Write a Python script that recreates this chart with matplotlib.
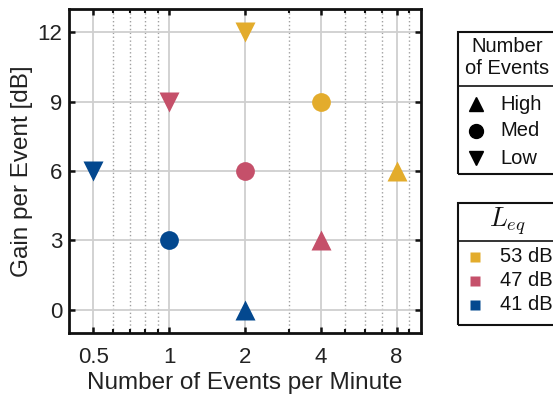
import matplotlib
matplotlib.use("Agg")
import matplotlib.pyplot as plt
from matplotlib.lines import Line2D
from matplotlib.patches import Rectangle
from matplotlib.ticker import FixedLocator, NullFormatter

plt.rcParams['font.family'] = ['Liberation Sans', 'DejaVu Sans']
plt.rcParams['mathtext.fontset'] = 'cm'

# ---- data ----
levels = ['53 dB', '47 dB', '41 dB']
level_colors = ['#E3AC2C', '#C5506A', '#03488F']
densities = ['High', 'Med', 'Low']
density_markers = ['^', 'o', 'v']

# rate (events/min) per (level, density)
rates = {
    ('53 dB', 'High'): 8, ('53 dB', 'Med'): 4, ('53 dB', 'Low'): 2,
    ('47 dB', 'High'): 4, ('47 dB', 'Med'): 2, ('47 dB', 'Low'): 1,
    ('41 dB', 'High'): 2, ('41 dB', 'Med'): 1, ('41 dB', 'Low'): 0.5,
}
gains = {
    ('53 dB', 'High'): 6, ('53 dB', 'Med'): 9, ('53 dB', 'Low'): 12,
    ('47 dB', 'High'): 3, ('47 dB', 'Med'): 6, ('47 dB', 'Low'): 9,
    ('41 dB', 'High'): 0, ('41 dB', 'Med'): 3, ('41 dB', 'Low'): 6,
}
x_ticks = [0.5, 1, 2, 4, 8]
x_ticklabels = ['0.5', '1', '2', '4', '8']
x_minor = [0.6, 0.7, 0.8, 0.9, 3, 5, 6, 7, 9]
y_ticks = [0, 3, 6, 9, 12]

W, H = 553, 400
fig = plt.figure(figsize=(W / 100, H / 100), dpi=100)
ax = fig.add_axes([69 / W, 1 - 333 / H, (421 - 69) / W, (333 - 9) / H])

ax.set_xscale('log')
ax.set_xlim(0.4, 10)
ax.set_ylim(-1, 13)
ax.xaxis.set_major_locator(FixedLocator(x_ticks))
ax.set_xticklabels(x_ticklabels)
ax.xaxis.set_minor_locator(FixedLocator(x_minor))
ax.xaxis.set_minor_formatter(NullFormatter())
ax.set_yticks(y_ticks)

ax.grid(True, which='major', color='#cfcfcf', lw=1.3, ls='-')
ax.grid(True, which='minor', axis='x', color='#a0a0a0', lw=1.0, ls=(0, (1, 1.8)))
ax.set_axisbelow(True)

for lev, col in zip(levels, level_colors):
    for den, mk in zip(densities, density_markers):
        ms = 13.5 if mk == 'o' else 14.5
        ax.plot(rates[(lev, den)], gains[(lev, den)], marker=mk, ls='none',
                color=col, ms=ms, mec='none', zorder=3, clip_on=False)

ax.tick_params(which='major', direction='in', length=4, width=1.8,
               top=True, right=True, labelsize=16, color='#111111')
ax.tick_params(axis='x', which='major', pad=10)
ax.tick_params(axis='y', which='major', pad=5)
ax.tick_params(which='minor', direction='in', length=3, width=1.5,
               top=True, color='#111111')
for s in ax.spines.values():
    s.set_linewidth(2)
    s.set_color('#111111')

ax.set_xlabel('Number of Events per Minute', fontsize=17.5, labelpad=3, color='#222222')
ax.set_ylabel('Gain per Event [dB]', fontsize=17.5, labelpad=3, color='#222222')
for lbl in ax.get_xticklabels() + ax.get_yticklabels():
    lbl.set_color('#222222')

# ---- custom legends (figure pixel coords) ----
def fx(px):
    return px / W

def fy(py):
    return 1 - py / H

box_l, box_r = 458, 557
cx = (box_l + box_r) / 2

# Legend 1: density markers
fig.patches.append(Rectangle((fx(box_l), fy(174)), fx(box_r - box_l), (174 - 32) / H,
                             transform=fig.transFigure, fill=False, ec='#111111', lw=1.5))
fig.lines.append(Line2D([fx(box_l), fx(box_r)], [fy(86), fy(86)],
                        transform=fig.transFigure, color='#111111', lw=1.2))
fig.text(fx(cx), fy(46), 'Number', ha='center', va='center', fontsize=14.5, color='#111111')
fig.text(fx(cx), fy(68), 'of Events', ha='center', va='center', fontsize=14.5, color='#111111')
for i, (den, mk) in enumerate(zip(densities, density_markers)):
    yy = 104 + i * 27
    fig.lines.append(Line2D([fx(476)], [fy(yy)], transform=fig.transFigure,
                            marker=mk, ls='none', color='black', ms=10))
    fig.text(fx(500), fy(yy), den, ha='left', va='center', fontsize=14.5, color='#111111')

# Legend 2: levels
fig.patches.append(Rectangle((fx(box_l), fy(325)), fx(box_r - box_l), (325 - 203) / H,
                             transform=fig.transFigure, fill=False, ec='#111111', lw=1.5))
fig.lines.append(Line2D([fx(box_l), fx(box_r)], [fy(241), fy(241)],
                        transform=fig.transFigure, color='#111111', lw=1.2))
fig.text(fx(cx), fy(221), r'$L_{eq}$', ha='center', va='center', fontsize=19, color='#111111')
for i, (lev, col) in enumerate(zip(levels, level_colors)):
    yy = 257 + i * 24
    fig.lines.append(Line2D([fx(475)], [fy(yy)], transform=fig.transFigure,
                            marker='s', ls='none', color=col, ms=7.5, mec='none'))
    fig.text(fx(500), fy(yy), lev, ha='left', va='center', fontsize=14.5, color='#111111')

fig.savefig('out.png', dpi=100)
